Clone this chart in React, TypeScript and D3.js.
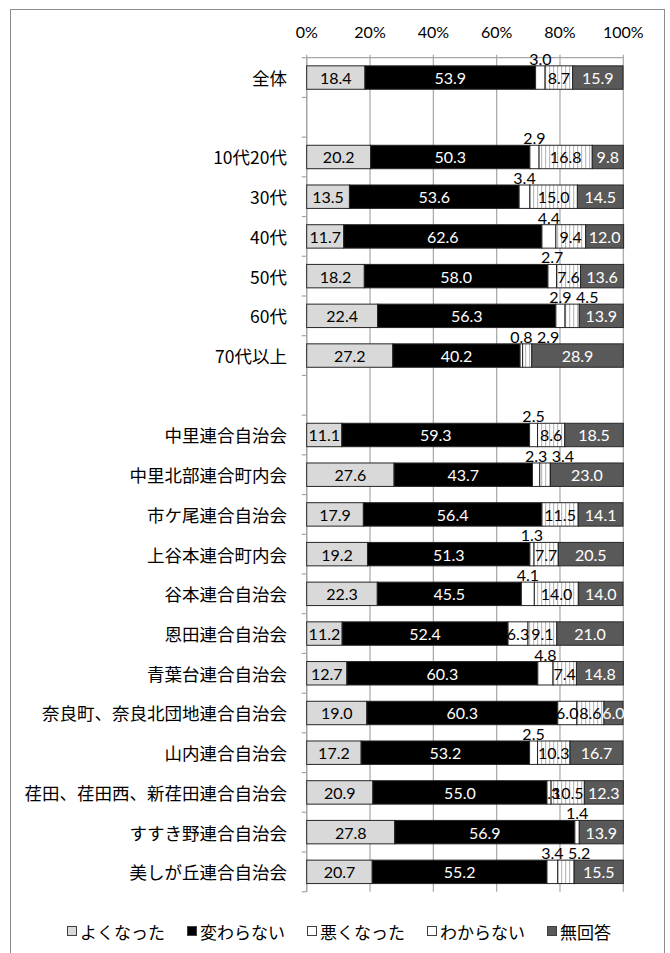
import React from "react";
import * as d3 from "d3";

const categories = [
  "全体", "", "10代20代", "30代", "40代", "50代", "60代", "70代以上", "",
  "中里連合自治会", "中里北部連合町内会", "市ケ尾連合自治会", "上谷本連合町内会",
  "谷本連合自治会", "恩田連合自治会", "青葉台連合自治会", "奈良町、奈良北団地連合自治会",
  "山内連合自治会", "荏田、荏田西、新荏田連合自治会", "すすき野連合自治会", "美しが丘連合自治会",
];

const seriesNames = ["よくなった", "変わらない", "悪くなった", "わからない", "無回答"];

const better = [18.4, null, 20.2, 13.5, 11.7, 18.2, 22.4, 27.2, null, 11.1, 27.6, 17.9, 19.2, 22.3, 11.2, 12.7, 19.0, 17.2, 20.9, 27.8, 20.7];
const same = [53.9, null, 50.3, 53.6, 62.6, 58.0, 56.3, 40.2, null, 59.3, 43.7, 56.4, 51.3, 45.5, 52.4, 60.3, 60.3, 53.2, 55.0, 56.9, 55.2];
const worse = [3.0, null, 2.9, 3.4, 4.4, 2.7, 2.9, 0.8, null, 2.5, 2.3, null, 1.3, 4.1, 6.3, 4.8, 6.0, 2.5, 1.3, 1.4, 3.4];
const unknown = [8.7, null, 16.8, 15.0, 9.4, 7.6, 4.5, 2.9, null, 8.6, 3.4, 11.5, 7.7, 14.0, 9.1, 7.4, 8.6, 10.3, 10.5, null, 5.2];
const noAnswer = [15.9, null, 9.8, 14.5, 12.0, 13.6, 13.9, 28.9, null, 18.5, 23.0, 14.1, 20.5, 14.0, 21.0, 14.8, 6.0, 16.7, 12.3, 13.9, 15.5];

const xTicks = [0, 20, 40, 60, 80, 100];

// labels that stay inside the bar even though the value is small
const inBarExceptions = [["荏田、荏田西、新荏田連合自治会", "悪くなった"]];

const fills = ["#d9d9d9", "#000000", "#ffffff", "url(#stripes)", "#595959"];
const textColors = ["#000", "#fff", "#000", "#000", "#fff"];

const W = 670;
const H = 953;
const NUM_FONT = "Lato, 'Liberation Sans', sans-serif";
const JP_FONT = "'Noto Sans CJK JP', sans-serif";

export default function App() {
  const values = [better, same, worse, unknown, noAnswer];
  const rows = categories.map((c, i) => {
    const r: any = { idx: String(i), name: c };
    seriesNames.forEach((s, k) => (r[s] = values[k][i] ?? 0));
    return r;
  });
  const stacked = d3.stack<any>().keys(seriesNames)(rows);

  const x = d3.scaleLinear().domain([0, 100]).range([306.7, 623.3]);
  const y = d3
    .scaleBand<string>()
    .domain(rows.map((r) => r.idx))
    .range([57.7, 891.7])
    .paddingInner(0.41)
    .paddingOuter(0.205);
  const bw = y.bandwidth();
  const step = y.step();
  const [y0, y1] = y.range();

  // labels
  const labels: any[] = [];
  rows.forEach((r, i) => {
    if (!r.name) return;
    let lastAboveRight = -Infinity;
    seriesNames.forEach((s, k) => {
      const v = values[k][i];
      if (v == null) return;
      const seg = stacked[k][i];
      const cx = (x(seg[0]) + x(seg[1])) / 2;
      const exc = inBarExceptions.some(([n, ser]) => n === r.name && ser === s);
      const text = v.toFixed(1);
      const yTop = y(r.idx)!;
      if (v < 5.5 && !exc) {
        const w = text.length * 7.6;
        let px = cx;
        if (px - w / 2 < lastAboveRight + 4) px = lastAboveRight + 4 + w / 2;
        lastAboveRight = px + w / 2;
        labels.push({ key: `${i}-${k}`, x: px, y: yTop - 1, text, color: "#000", base: "auto" });
      } else {
        labels.push({ key: `${i}-${k}`, x: cx, y: yTop + bw / 2, text, color: textColors[k], base: "central" });
      }
    });
  });

  // legend
  const legFs = 17;
  const sq = 10;
  const legGap = 22;
  let lx = 67;
  const legend = seriesNames.map((s, k) => {
    const item = { s, k, x: lx };
    lx += sq + 3 + s.length * legFs + legGap;
    return item;
  });
  const legendFills = ["#d9d9d9", "#000000", "#ffffff", "#ffffff", "#595959"];

  return (
    <svg
      width={W}
      height={H}
      style={{ position: "absolute", left: 0, top: 0, background: "#fff" }}
    >
      <defs>
        <pattern id="stripes" width="4" height="4" patternUnits="userSpaceOnUse">
          <rect width="4" height="4" fill="#fff" />
          <rect x="1" width="1.2" height="4" fill="#bdbdbd" />
        </pattern>
      </defs>
      <rect x={10.5} y={9.5} width={654} height={H} fill="#fff" stroke="#8c8c8c" />

      {/* gridlines */}
      {xTicks.map((t) => (
        <line key={t} x1={x(t)} x2={x(t)} y1={y0 - 3} y2={y1} stroke="#a6a6a6" strokeWidth={1.2} />
      ))}
      <line x1={x(0)} x2={x(100)} y1={y0} y2={y0} stroke="#a6a6a6" strokeWidth={1.2} />
      <line x1={x(0)} x2={x(0)} y1={y0} y2={y1} stroke="#a6a6a6" strokeWidth={1.2} />
      {d3.range(categories.length + 1).map((i) => (
        <line key={i} x1={x(0) - 5} x2={x(0)} y1={y0 + i * step} y2={y0 + i * step} stroke="#a6a6a6" strokeWidth={1.2} />
      ))}

      {xTicks.map((t) => (
        <text key={t} x={x(t)} y={31.7} textAnchor="middle" dominantBaseline="central" fontFamily={NUM_FONT} fontSize={16} fill="#000">
          {t}%
        </text>
      ))}

      {/* bars */}
      {stacked.map((layer, k) =>
        layer.map((seg, i) => {
          const v = values[k][i];
          if (v == null || !rows[i].name) return null;
          return (
            <rect
              key={`${k}-${i}`}
              x={x(seg[0])}
              y={y(rows[i].idx)}
              width={x(seg[1]) - x(seg[0])}
              height={bw}
              fill={fills[k]}
              stroke="#262626"
              strokeWidth={1}
            />
          );
        })
      )}

      {labels.map((l) => (
        <text key={l.key} x={l.x} y={l.y} textAnchor="middle" dominantBaseline={l.base} fontFamily={NUM_FONT} fontSize={16} fill={l.color}>
          {l.text}
        </text>
      ))}

      {/* category labels */}
      {rows.map((r) =>
        r.name ? (
          <text key={r.idx} x={287} y={y(r.idx)! + bw / 2} textAnchor="end" dominantBaseline="central" fontFamily={JP_FONT} fontSize={17.5} fill="#000">
            {r.name}
          </text>
        ) : null
      )}

      {/* legend */}
      {legend.map((it) => (
        <g key={it.s}>
          <rect x={it.x + 0.5} y={931.5 - sq / 2} width={sq - 1} height={sq - 1} fill={legendFills[it.k]} stroke="#404040" strokeWidth={1} />
          <text x={it.x + sq + 3} y={931.5} dominantBaseline="central" fontFamily={JP_FONT} fontSize={legFs} fill="#000">
            {it.s}
          </text>
        </g>
      ))}
    </svg>
  );
}
